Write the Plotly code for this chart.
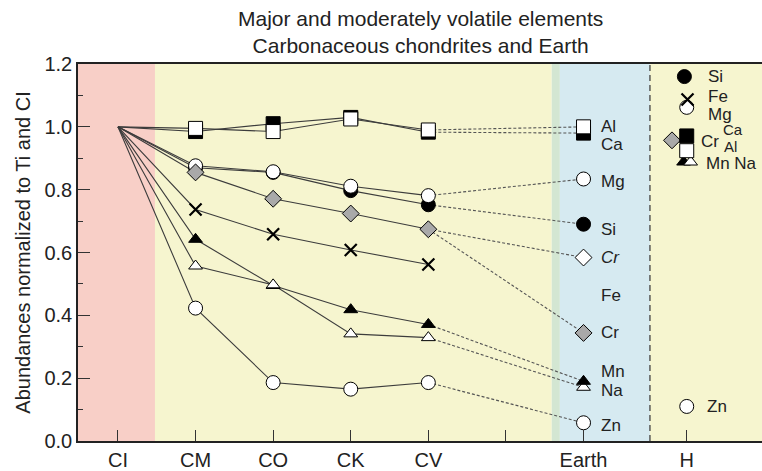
import plotly.graph_objects as go

# ---------------- data ----------------
groups = ["CI", "CM", "CO", "CK", "CV"]
group_pos = [0, 1, 2, 3, 4]
tick_pos = [0, 1, 2, 3, 4, 5, 6, 7.33]
tick_labels = ["CI", "CM", "CO", "CK", "CV", "", "Earth", "H"]
earth_pos = 6
h_pos = 7.33

al_vals = [1.0, 0.995, 0.985, 1.025, 0.99]
ca_vals = [1.0, 0.985, 1.01, 1.03, 0.983]
mg_vals = [1.0, 0.876, 0.857, 0.811, 0.781]
si_vals = [1.0, 0.87, 0.855, 0.797, 0.752]
cr_vals = [1.0, 0.855, 0.771, 0.724, 0.674]
fe_vals = [1.0, 0.737, 0.658, 0.608, 0.562]
mn_vals = [1.0, 0.642, 0.495, 0.418, 0.371]
na_vals = [1.0, 0.557, 0.497, 0.341, 0.329]
zn_vals = [1.0, 0.423, 0.186, 0.165, 0.186]

earth_al = 1.0
earth_ca = 0.98
earth_mg = 0.834
earth_si = 0.69
earth_cr_alt = 0.584
earth_cr = 0.344
earth_mn = 0.19
earth_na = 0.171
earth_zn = 0.058

# H chondrite values (x offsets used in the original to avoid overlaps)
h_si = (7.30, 1.16)
h_fe = (7.34, 1.087)
h_mg = (7.33, 1.062)
h_cr = (7.14, 0.957)
h_ca = (7.33, 0.971)
h_al = (7.33, 0.924)
h_mn = (7.29, 0.888)
h_na = (7.38, 0.888)
h_zn = (7.33, 0.11)

# ---------------- style ----------------
FONT = "Liberation Sans, Arial, Helvetica, sans-serif"
LINE = "#3c3c3c"
PINK = "#f8cfc7"
YELLOW = "#f6f5cf"
BLUE = "#d6eaf1"
GREEN = "#d3e6d2"
GRAY = "#a9a9a9"

X0, X1 = -0.515, 8.30

fig = go.Figure()

# background bands
bands = [(X0, 0.477, PINK), (0.477, 5.59, YELLOW), (5.59, 5.695, GREEN),
         (5.695, 6.856, BLUE), (6.856, X1, YELLOW)]
for a, b, c in bands:
    fig.add_shape(type="rect", xref="x", yref="paper", x0=a, x1=b, y0=0, y1=1,
                  fillcolor=c, line_width=0, layer="below")
fig.add_shape(type="line", xref="x", yref="paper", x0=6.856, x1=6.856, y0=0, y1=1,
              line=dict(color="#444", width=1.3, dash="6px,4px"), layer="below")

# solid lines through chondrite groups
for vals in [al_vals, ca_vals, mg_vals, si_vals, cr_vals, fe_vals, mn_vals, na_vals, zn_vals]:
    fig.add_trace(go.Scatter(x=group_pos, y=vals, mode="lines",
                             line=dict(color=LINE, width=1.1), hoverinfo="skip",
                             showlegend=False))

# dashed connectors CV -> Earth
pairs = [(al_vals[-1], earth_al), (ca_vals[-1], earth_ca), (mg_vals[-1], earth_mg),
         (si_vals[-1], earth_si), (cr_vals[-1], earth_cr_alt), (cr_vals[-1], earth_cr),
         (mn_vals[-1], earth_mn), (na_vals[-1], earth_na), (zn_vals[-1], earth_zn)]
for a, b in pairs:
    fig.add_trace(go.Scatter(x=[group_pos[-1], earth_pos], y=[a, b], mode="lines",
                             line=dict(color="#555", width=1.1, dash="3px,2px"),
                             hoverinfo="skip", showlegend=False))


def mk(symbol, fill, size, lw=1.0, lc="black"):
    return dict(symbol=symbol, color=fill, size=size, line=dict(color=lc, width=lw))


SQ_W = mk("square", "white", 14)
SQ_B = mk("square", "black", 14)
CI_W = mk("circle", "white", 14)
CI_B = mk("circle", "black", 14)
DI_G = mk("diamond", GRAY, 13)
DI_W = mk("diamond", "white", 13)
XX = mk("x-thin", "black", 12, lw=2.2)
TR_B = mk("triangle-up", "black", 12)
TR_W = mk("triangle-up", "white", 12)


def pts(xs, ys, m):
    fig.add_trace(go.Scatter(x=xs, y=ys, mode="markers", marker=m,
                             hoverinfo="skip", showlegend=False))


# chondrite markers (CM..CV)
xs = group_pos[1:]
pts(xs, si_vals[1:], CI_B)
pts(xs, mg_vals[1:], CI_W)
pts(xs, cr_vals[1:], DI_G)
pts(xs, fe_vals[1:], XX)
pts(xs, ca_vals[1:], SQ_B)
pts(xs, al_vals[1:], SQ_W)
pts(xs, mn_vals[1:], TR_B)
pts(xs, na_vals[1:], TR_W)
pts(xs, zn_vals[1:], CI_W)

# Earth markers
pts([earth_pos], [earth_ca], SQ_B)
pts([earth_pos], [earth_al], SQ_W)
pts([earth_pos], [earth_mg], CI_W)
pts([earth_pos], [earth_si], CI_B)
pts([earth_pos], [earth_cr_alt], DI_W)
pts([earth_pos], [earth_cr], DI_G)
pts([earth_pos], [earth_na], TR_W)
pts([earth_pos], [earth_mn], TR_B)
pts([earth_pos], [earth_zn], CI_W)

# H markers
pts([h_si[0]], [h_si[1]], CI_B)
pts([h_mg[0]], [h_mg[1]], CI_W)
pts([h_fe[0]], [h_fe[1]], XX)
pts([h_cr[0]], [h_cr[1]], DI_G)
pts([h_mn[0]], [h_mn[1]], TR_B)
pts([h_na[0]], [h_na[1]], TR_W)
pts([h_ca[0]], [h_ca[1]], SQ_B)
pts([h_al[0]], [h_al[1]], SQ_W)
pts([h_zn[0]], [h_zn[1]], CI_W)


# ---------------- labels ----------------
def px(xp):
    return X0 + (xp - 78) * (X1 - X0) / 684.0


def py(yp):
    return (444 - yp) * 1.2 / 380.0


labels = [
    ("Al", 600, 127, 17), ("Ca", 600, 145, 17), ("Mg", 600, 182, 17), ("Si", 600, 231, 17),
    ("<i>Cr</i>", 600, 259, 17), ("Fe", 600, 297, 17), ("Cr", 600, 335, 17),
    ("Mn", 600, 374, 17), ("Na", 600, 393, 17), ("Zn", 600, 428, 17),
    ("Si", 707, 77, 17), ("Fe", 707, 97, 17), ("Mg", 707, 115, 17), ("Cr", 700, 142, 17),
    ("Ca", 722, 130, 15), ("Al", 723, 147, 15), ("Mn Na", 705, 164, 17),
    ("Zn", 706, 409.5, 17),
]
for t, xp, yp, fs in labels:
    fig.add_annotation(x=px(xp), y=py(yp), xref="x", yref="y", text=t, showarrow=False,
                       xanchor="left", yanchor="middle",
                       font=dict(family=FONT, size=fs, color="#222"), borderpad=0)

fig.add_annotation(xref="paper", yref="paper", x=0.5, y=1, xanchor="center",
                   yanchor="bottom", yshift=5, showarrow=False,
                   text="Major and moderately volatile elements<br>Carbonaceous chondrites and Earth",
                   font=dict(family=FONT, size=21, color="#222"))

fig.update_layout(
    width=762, height=471,
    margin=dict(l=78, r=0, t=64, b=27),
    paper_bgcolor="white", plot_bgcolor="white",
    font=dict(family=FONT, size=20, color="#222"),
    xaxis=dict(range=[X0, X1], tickmode="array", tickvals=tick_pos, ticktext=tick_labels,
               ticks="inside", ticklen=11, tickwidth=1.3, tickcolor="#333",
               showline=True, linecolor="#222", linewidth=1.5, mirror=True,
               showgrid=False, zeroline=False, tickfont=dict(size=20)),
    yaxis=dict(range=[0, 1.2], tickmode="array", tickvals=[0, 0.2, 0.4, 0.6, 0.8, 1.0, 1.2],
               ticktext=["0.0", "0.2", "0.4", "0.6", "0.8", "1.0", "1.2"],
               ticks="inside", ticklen=12, tickwidth=1.3, tickcolor="#333",
               minor=dict(tickvals=[0.1, 0.3, 0.5, 0.7, 0.9, 1.1], ticks="inside",
                          ticklen=5, tickwidth=1.3, tickcolor="#333"),
               showline=True, linecolor="#222", linewidth=1.5,
               showgrid=False, zeroline=False, tickfont=dict(size=20),
               title=dict(text="Abundances normalized to Ti and CI", standoff=8,
                          font=dict(size=20))),
)

fig.write_html("out.html")
